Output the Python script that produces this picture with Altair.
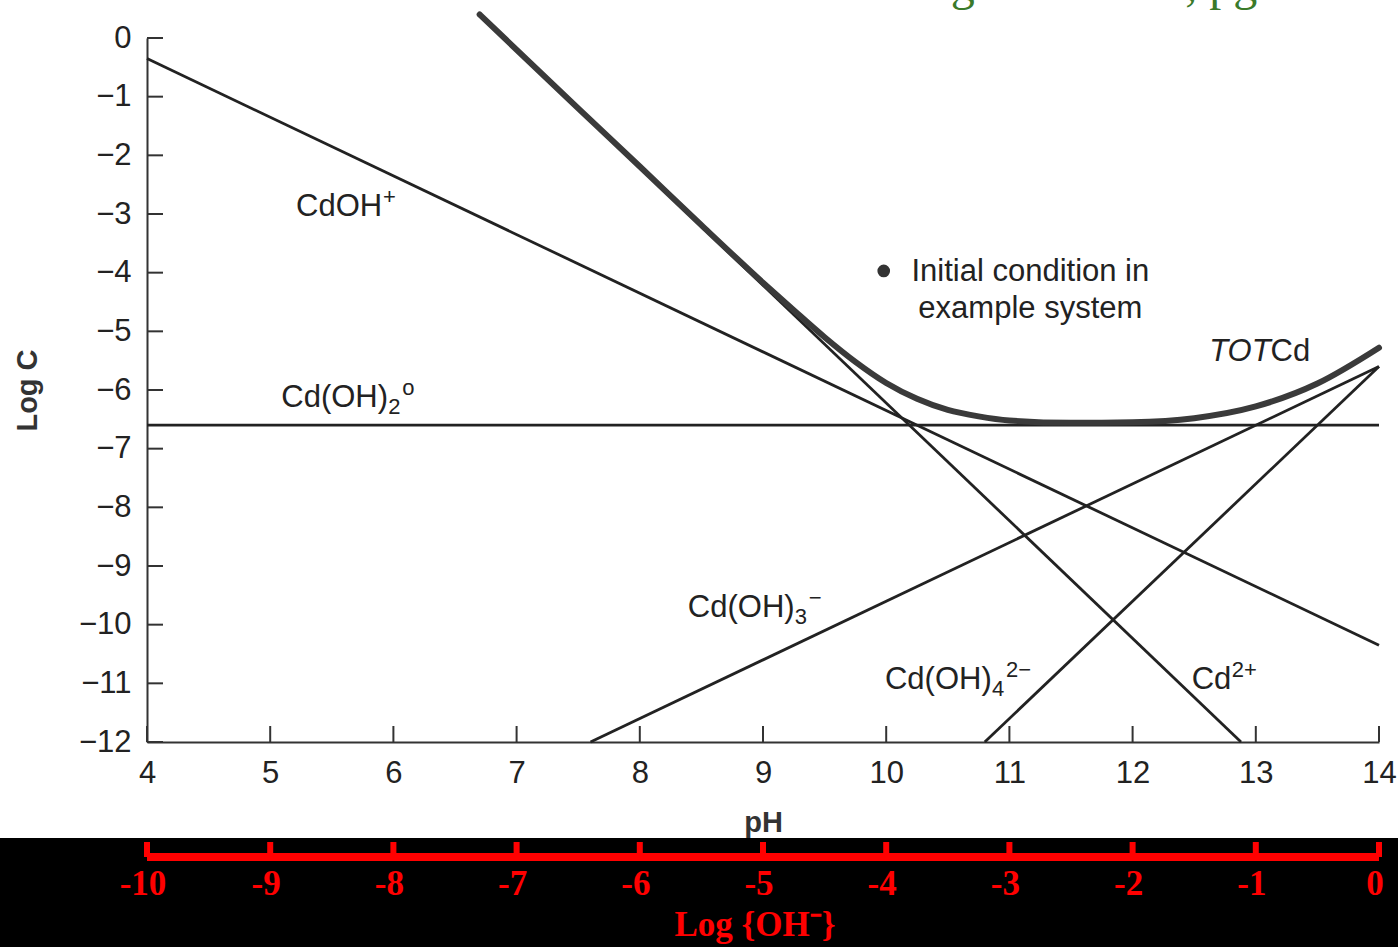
import altair as alt
import pandas as pd

# Straight species lines of the Cd(II)-hydroxide log C - pH diagram (segment end points)
species = ["Cd2+", "CdOH+", "Cd(OH)2", "Cd(OH)3-", "Cd(OH)4 2-"]
ph_start = [6.7, 4.0, 4.0, 7.6, 10.8]
logc_start = [0.4, -0.35, -6.6, -12.0, -12.0]
ph_end = [12.88, 14.0, 14.0, 14.0, 14.0]
logc_end = [-12.0, -10.35, -6.6, -5.6, -5.6]

# Total dissolved cadmium curve
tot_ph = [6.7, 7.5, 8.0, 8.5, 9.0, 9.25, 9.5, 9.75, 10.0, 10.25, 10.5, 10.75,
          11.0, 11.5, 12.0, 12.5, 13.0, 13.5, 14.0]
tot_logc = [0.4, -1.2, -2.19, -3.19, -4.17, -4.64, -5.10, -5.52, -5.88, -6.15,
            -6.34, -6.45, -6.52, -6.56, -6.55, -6.48, -6.28, -5.89, -5.28]

# Species labels: base text, subscript, superscript and anchor point
label_base = ["CdOH", "Cd(OH)", "Cd(OH)", "Cd(OH)", "Cd"]
label_sub = ["", "2", "3", "4", ""]
label_sup = ["+", "o", "\u2212", "2\u2212", "2+"]
label_ph = [5.21, 5.09, 8.39, 9.99, 12.48]
label_logc = [-2.88, -6.14, -9.72, -10.94, -10.94]
# horizontal offsets (px) of the subscript / superscript from the anchor
sub_dx = [0, 107, 107, 107, 0]
sup_dx = [87, 121, 121, 121, 40]

# Initial condition marker and its note
init_ph = [9.98]
init_logc = [-3.97]
note_text = ["Initial condition in", "example system"]
note_ph = [11.17, 11.17]
note_logc = [-3.99, -4.62]

# TOTCd label position (join between italic "TOT" and "Cd")
tot_label_ph = [13.12]
tot_label_logc = [-5.35]

# Axis ticks
x_ticks = list(range(4, 15))
y_ticks = list(range(-12, 1))
logoh_ticks = list(range(-10, 1))

FONT = "Liberation Sans"
SERIF = "Liberation Serif"
INK = "#222222"
RED = "#ff0000"
FS = 31

seg_rows = []
for s, x0, y0, x1, y1 in zip(species, ph_start, logc_start, ph_end, logc_end):
    seg_rows.append({"species": s, "ph": x0, "logc": y0, "k": 0})
    seg_rows.append({"species": s, "ph": x1, "logc": y1, "k": 1})
seg_df = pd.DataFrame(seg_rows)
tot_df = pd.DataFrame({"ph": tot_ph, "logc": tot_logc, "k": list(range(len(tot_ph)))})
init_df = pd.DataFrame({"ph": init_ph, "logc": init_logc})
note_df = pd.DataFrame({"text": note_text, "ph": note_ph, "logc": note_logc})
totlab_df = pd.DataFrame({"ph": tot_label_ph, "logc": tot_label_logc})
xt_df = pd.DataFrame({"ph": x_ticks})
yt_df = pd.DataFrame({"logc": y_ticks})
oh_df = pd.DataFrame({"logoh": logoh_ticks})
one = pd.DataFrame({"a": [0]})
bar_df = pd.DataFrame({"ph": [min(x_ticks)], "ph2": [max(x_ticks)]})

x_scale = alt.Scale(domain=[4, 14], nice=False, zero=False)
y_scale = alt.Scale(domain=[-12, 0], nice=False, zero=False)

x_axis = alt.Axis(values=x_ticks, format="d", tickSize=0, labelPadding=16, labelFont=FONT,
                  labelFontSize=FS, labelColor=INK, labelFlush=False, domainColor="#333333",
                  domainWidth=2, grid=False, title="pH", titleFont=FONT,
                  titleFontSize=29, titleFontWeight="bold", titleColor="#333333",
                  titleX=616, titleY=80, titleBaseline="middle")
y_axis = alt.Axis(values=y_ticks, format="d", tickSize=0, labelPadding=16, labelFont=FONT,
                  labelFontSize=FS, labelColor=INK, labelFlush=False, domainColor="#333333",
                  domainWidth=2, grid=False, title="Log C", titleFont=FONT,
                  titleFontSize=29, titleFontWeight="bold", titleColor="#333333",
                  titleX=-120, titleY=352, titleAngle=270, titleBaseline="middle")

# Black band behind the secondary Log {OH-} scale
band = alt.Chart(one).mark_rect(color="black").encode(
    x=alt.value(-147), x2=alt.value(1251), y=alt.value(800), y2=alt.value(909)
)

lines = alt.Chart(seg_df).mark_line(color=INK, strokeWidth=2.8).encode(
    x=alt.X("ph:Q", scale=x_scale, axis=x_axis),
    y=alt.Y("logc:Q", scale=y_scale, axis=y_axis),
    detail="species:N",
    order="k:Q",
)

tot = alt.Chart(tot_df).mark_line(color="#3a3a3a", strokeWidth=6, interpolate="monotone",
                                  strokeCap="round").encode(
    x="ph:Q", y="logc:Q", order="k:Q"
)

# Inward ticks on both axes
x_tick_marks = alt.Chart(xt_df).mark_rule(color="#333333", strokeWidth=2).encode(
    x="ph:Q", y=alt.value(704), y2=alt.value(688)
)
y_tick_marks = alt.Chart(yt_df).mark_rule(color="#333333", strokeWidth=2).encode(
    y="logc:Q", x=alt.value(0), x2=alt.value(16)
)

# Species labels built from base text plus smaller sub/superscripts
label_layers = []
for base, sub, sup, px, py, sdx, pdx in zip(label_base, label_sub, label_sup,
                                             label_ph, label_logc, sub_dx, sup_dx):
    pos = pd.DataFrame({"ph": [px], "logc": [py]})
    label_layers.append(
        alt.Chart(pos).mark_text(font=FONT, fontSize=FS, color=INK, align="left",
                                 baseline="middle", text=base).encode(x="ph:Q", y="logc:Q")
    )
    if sub:
        label_layers.append(
            alt.Chart(pos).mark_text(font=FONT, fontSize=22, color=INK, align="left",
                                     baseline="middle", text=sub, dx=sdx, dy=9
                                     ).encode(x="ph:Q", y="logc:Q")
        )
    if sup:
        label_layers.append(
            alt.Chart(pos).mark_text(font=FONT, fontSize=22, color=INK, align="left",
                                     baseline="middle", text=sup, dx=pdx, dy=-10
                                     ).encode(x="ph:Q", y="logc:Q")
        )

tot_italic = alt.Chart(totlab_df).mark_text(font=FONT, fontSize=FS, color=INK, align="right",
                                            baseline="middle", fontStyle="italic",
                                            text="TOT").encode(x="ph:Q", y="logc:Q")
tot_plain = alt.Chart(totlab_df).mark_text(font=FONT, fontSize=FS, color=INK, align="left",
                                           baseline="middle", text="Cd").encode(x="ph:Q", y="logc:Q")

init_pt = alt.Chart(init_df).mark_point(filled=True, color="#333333", size=160, opacity=1).encode(
    x="ph:Q", y="logc:Q"
)
note = alt.Chart(note_df).mark_text(font=FONT, fontSize=FS, color=INK, align="center",
                                    baseline="middle").encode(
    x="ph:Q", y="logc:Q", text="text:N"
)

# Secondary Log {OH-} scale, aligned to pH = 14 + log {OH-}
oh_bar = alt.Chart(bar_df).mark_rule(color=RED, strokeWidth=8).encode(
    x="ph:Q", x2="ph2:Q", y=alt.value(819)
)
oh_ticks = alt.Chart(oh_df).transform_calculate(ph="datum.logoh + 14").mark_rule(
    color=RED, strokeWidth=6).encode(x="ph:Q", y=alt.value(804), y2=alt.value(819))
oh_labels = alt.Chart(oh_df).transform_calculate(
    ph="datum.logoh + 14", lab="'' + datum.logoh"
).mark_text(
    font=SERIF, fontSize=35, fontWeight="bold", color=RED, align="center",
    baseline="middle", dx=-4).encode(x="ph:Q", y=alt.value(846), text="lab:N")
oh_title = alt.Chart(one).mark_text(font=SERIF, fontSize=35, fontWeight="bold", color=RED,
                                    align="center", baseline="middle",
                                    text="Log {OH\u207b}").encode(
    x=alt.value(608), y=alt.value(887)
)

# Source note running off the top edge
source = alt.Chart(one).mark_text(font=SERIF, fontSize=48, color="#3a7a2a", align="left",
                                  baseline="alphabetic",
                                  text="diagram for Cd, pg 4").encode(
    x=alt.value(745), y=alt.value(-38)
)

chart = alt.layer(
    band, lines, tot, x_tick_marks, y_tick_marks, *label_layers, tot_italic, tot_plain,
    init_pt, note, oh_bar, oh_ticks, oh_labels, oh_title, source
).properties(
    width=1232, height=704,
    padding={"left": 147, "top": 38, "right": 19, "bottom": 205},
    autosize=alt.AutoSizeParams(type="none"),
    background="white",
).configure_view(stroke=None)

chart.save("out.html", embed_options={"renderer": "svg", "actions": False})
